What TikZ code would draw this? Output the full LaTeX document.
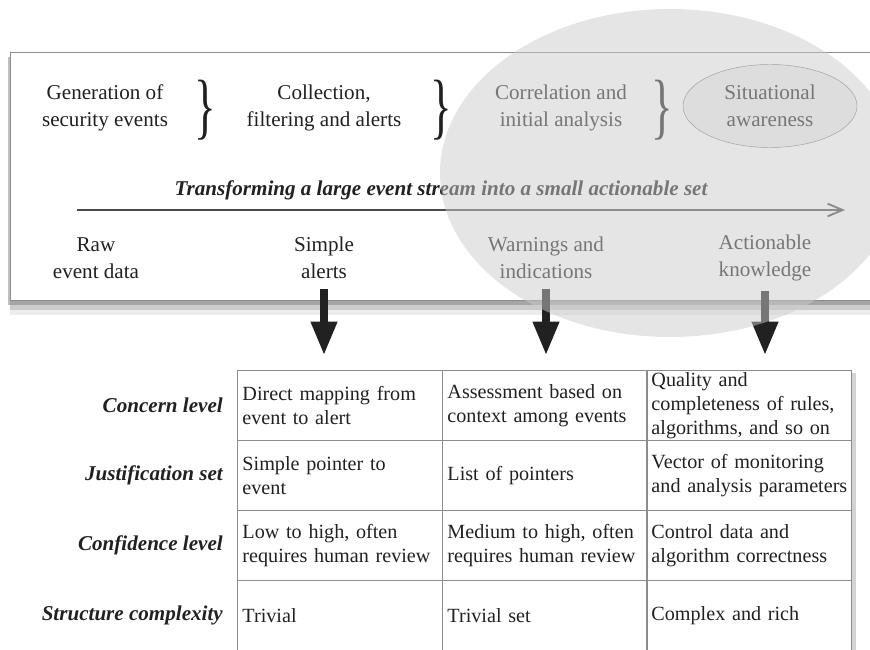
\documentclass[tikz,border=0pt]{standalone}
\usepackage{fontspec}
\setmainfont{Liberation Serif}
\usetikzlibrary{arrows.meta,positioning,shapes.geometric,shadows}
\definecolor{inkgray}{gray}{0.13}
\definecolor{rulegray}{gray}{0.55}
\newcommand{\bigbrace}{\scalebox{0.62}[1]{\fontsize{62}{62}\selectfont\}}}

\begin{document}
\begin{tikzpicture}[x=0.03cm, y=-0.03cm,
    lbl/.style={font=\fontsize{18}{23}\selectfont, align=center, text=inkgray},
    hdr/.style={font=\fontsize{18}{21}\selectfont\bfseries\itshape, text=inkgray,
                anchor=east, inner sep=0pt},
    cell/.style={draw=rulegray, line width=0.8pt, font=\fontsize{17.2}{20.6}\selectfont,
                 text=inkgray, align=left, text width=5.85cm, inner xsep=0.15cm,
                 inner ysep=0pt, minimum height=2.1cm, anchor=north west,
                 execute at begin node={\hyphenpenalty=10000\hbadness=10000\hfuzz=20pt}},
    brc/.style={inner sep=0pt, text=inkgray},
    flow/.style={draw=black!70, line width=1.6pt,
                 -{Straight Barb[length=0.45cm,width=0.38cm]}},
    down/.style={draw=inkgray, line width=6pt, shorten <=5pt,
                 -{Triangle[length=1cm,width=0.75cm]}},
    panel/.style={draw=black!45, line width=0.8pt, fill=white,
                  drop shadow={shadow xshift=0pt, shadow yshift=-0.45cm, opacity=.15},
                  drop shadow={shadow xshift=0pt, shadow yshift=-0.3cm, opacity=.3},
                  drop shadow={shadow xshift=-0.05cm, shadow yshift=-0.15cm, opacity=.5}}
  ]
    \useasboundingbox (0,0) rectangle (870,650);

    % upper panel
    \draw[panel] (10,52) rectangle (885,300);

    \node[lbl] (gen)  at (105,108) {Generation of\\security events};
    \node[brc] (b1)   at (205,110) {\bigbrace};
    \node[lbl] (coll) at (324,108) {Collection,\\filtering and alerts};
    \node[brc] (b2)   at (441,110) {\bigbrace};
    \node[lbl] (corr) at (561,108) {Correlation and\\initial analysis};
    \node[brc] (b3)   at (662,110) {\bigbrace};
    \node[lbl, ellipse, draw=black!55, fill=black!6, inner sep=0pt,
          minimum width=5.22cm, minimum height=2.49cm] (aware) at (770,106)
          {Situational\\awareness};

    \node[lbl, font=\fontsize{18}{23}\selectfont\bfseries\itshape] (title) at (441,190)
          {Transforming a large event stream into a small actionable set};
    \coordinate (fs) at (77,210);
    \coordinate (fe) at (845,210);
    \draw[flow] (fs) -- (fe);

    \node[lbl] (raw)    at (96,258)  {Raw\\event data};
    \node[lbl] (simple) at (324,258) {Simple\\alerts};
    \node[lbl] (warn)   at (546,258) {Warnings and\\indications};
    \node[lbl] (act)    at (765,258) {Actionable\\knowledge};

    \coordinate (tip) at (0,355);
    \draw[down] (simple.south) -- (simple.south |- tip);
    \draw[down] (warn.south) -- (warn.south |- tip);
    \draw[down] (act.south) -- (act.south |- tip);

    % grey focus area
    \fill[black!20, fill opacity=0.5] (670,173) ellipse [x radius=230, y radius=164];

    % table
    \fill[white, drop shadow={shadow xshift=0.15cm, shadow yshift=-0.1cm, opacity=.35}]
      (237,370) rectangle (851,650);

    \node[hdr] (h1) at (223,405) {Concern level};
    \node[hdr] (h2) at (223,475) {Justification set};
    \node[hdr] (h3) at (223,545) {Confidence level};
    \node[hdr] (h4) at (223,615) {Structure complexity};

    \node[cell] (c11) at (237,370) {Direct mapping from\\event to alert};
    \node[cell] (c12) at (442,370) {Assessment based on\\context among events};
    \node[cell] (c13) at (646,370) {Quality and\\completeness of rules,\\algorithms, and so on};
    \node[cell] (c21) at (237,440) {Simple pointer to\\event};
    \node[cell] (c22) at (442,440) {List of pointers};
    \node[cell] (c23) at (646,440) {Vector of monitoring\\\mbox{and analysis parameters}};
    \node[cell] (c31) at (237,510) {Low to high, often\\requires human review};
    \node[cell] (c32) at (442,510) {Medium to high, often\\requires human review};
    \node[cell] (c33) at (646,510) {Control data and\\algorithm correctness};
    \node[cell] (c41) at (237,580) {Trivial};
    \node[cell] (c42) at (442,580) {Trivial set};
    \node[cell] (c43) at (646,580) {Complex and rich};
  \end{tikzpicture}
\end{document}
